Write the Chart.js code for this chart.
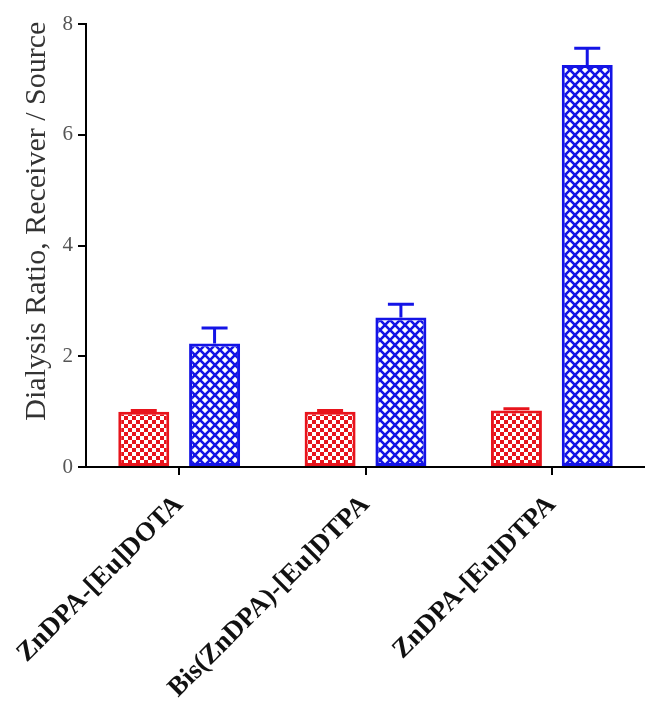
<!DOCTYPE html>
<html>
<head>
<meta charset="utf-8">
<script src="https://cdn.jsdelivr.net/npm/chart.js@4.4.0/dist/chart.umd.min.js"></script>
<style>
  html, body { margin: 0; padding: 0; background: #fff; }
  #wrap { width: 645px; height: 705px; position: relative; }
</style>
</head>
<body>
<div id="wrap"><canvas id="c"></canvas></div>
<script>
const categories = ["ZnDPA-[Eu]DOTA", "Bis(ZnDPA)-[Eu]DTPA", "ZnDPA-[Eu]DTPA"];
const sourceValues = [1.0, 1.0, 1.02];
const sourceErrors = [0.02, 0.02, 0.03];
const receiverValues = [2.23, 2.70, 7.26];
const receiverErrors = [0.28, 0.24, 0.30];
const yTicks = [0, 2, 4, 6, 8];
const yTitle = 'Dialysis Ratio, Receiver / Source';

function makeChecker() {
  const c = document.createElement('canvas');
  c.width = 8; c.height = 8;
  const g = c.getContext('2d');
  g.fillStyle = '#e8141c'; g.fillRect(0, 0, 8, 8);
  g.fillStyle = '#ffffff';
  g.fillRect(0, 0, 4, 4);
  g.fillRect(4, 4, 4, 4);
  return g.createPattern(c, 'repeat');
}
function makeHatch() {
  const c = document.createElement('canvas');
  c.width = 10; c.height = 10;
  const g = c.getContext('2d');
  g.fillStyle = '#ffffff'; g.fillRect(0, 0, 10, 10);
  g.strokeStyle = '#1414e6'; g.lineWidth = 2.6;
  g.beginPath();
  g.moveTo(-2, -2); g.lineTo(12, 12);
  g.moveTo(12, -2); g.lineTo(-2, 12);
  g.stroke();
  return g.createPattern(c, 'repeat');
}

const errorBars = {
  id: 'errorBars',
  afterDatasetsDraw(chart) {
    const ctx = chart.ctx;
    const y = chart.scales.y;
    chart.data.datasets.forEach((ds, di) => {
      const meta = chart.getDatasetMeta(di);
      meta.data.forEach((bar, i) => {
        const v = ds.data[i], e = ds.errors[i];
        const x = bar.x;
        const yTop = y.getPixelForValue(v + e);
        const yV = y.getPixelForValue(v);
        ctx.save();
        ctx.strokeStyle = ds.borderColor;
        ctx.lineWidth = 3;
        ctx.beginPath();
        ctx.moveTo(x, yV); ctx.lineTo(x, yTop);
        ctx.moveTo(x - 13, yTop); ctx.lineTo(x + 13, yTop);
        ctx.stroke();
        ctx.restore();
      });
    });
  }
};

const axisTitle = {
  id: 'axisTitle',
  afterDraw(chart) {
    const ctx = chart.ctx;
    const area = chart.chartArea;
    ctx.save();
    ctx.translate(37, area.top + (area.bottom - area.top) * 0.445);
    ctx.rotate(-Math.PI / 2);
    ctx.fillStyle = '#333';
    ctx.font = '30px "Liberation Serif"';
    ctx.textAlign = 'center';
    ctx.textBaseline = 'middle';
    ctx.fillText(yTitle, 0, 0);
    ctx.restore();
  }
};

new Chart(document.getElementById('c'), {
  type: 'bar',
  data: {
    labels: categories,
    datasets: [
      { label: 'Source', data: sourceValues, errors: sourceErrors,
        backgroundColor: makeChecker(), borderColor: '#e8141c', borderWidth: 3, borderSkipped: false },
      { label: 'Receiver', data: receiverValues, errors: receiverErrors,
        backgroundColor: makeHatch(), borderColor: '#1414e6', borderWidth: 3, borderSkipped: false }
    ]
  },
  options: {
    responsive: true,
    maintainAspectRatio: false,
    animation: false,
    layout: { padding: { top: 24, right: 0, left: 0, bottom: 0 } },
    plugins: { legend: { display: false }, tooltip: { enabled: false } },
    datasets: { bar: { categoryPercentage: 0.76, barPercentage: 0.72 } },
    scales: {
      x: {
        grid: { display: true, offset: false, drawOnChartArea: false, drawTicks: true,
                tickLength: 8, color: '#000', lineWidth: 2 },
        border: { display: true, color: '#000', width: 2 },
        ticks: { maxRotation: 45, minRotation: 45, padding: 14, color: '#111',
                 font: { family: 'Liberation Serif', size: 27, weight: 'bold' } },
        afterFit(scale) { scale.height = 238; scale.paddingLeft = 0; scale.paddingRight = 0; }
      },
      y: {
        min: 0, max: 8,
        afterBuildTicks(scale) { scale.ticks = yTicks.map(v => ({ value: v })); },
        grid: { display: true, drawOnChartArea: false, drawTicks: true,
                tickLength: 8, color: '#000', lineWidth: 2 },
        border: { display: true, color: '#000', width: 2 },
        ticks: { padding: 5, color: '#555',
                 font: { family: 'Liberation Serif', size: 21 } },
        title: { display: false },
        afterFit(scale) { scale.width = 86; }
      }
    }
  },
  plugins: [errorBars, axisTitle]
});
</script>
</body>
</html>
